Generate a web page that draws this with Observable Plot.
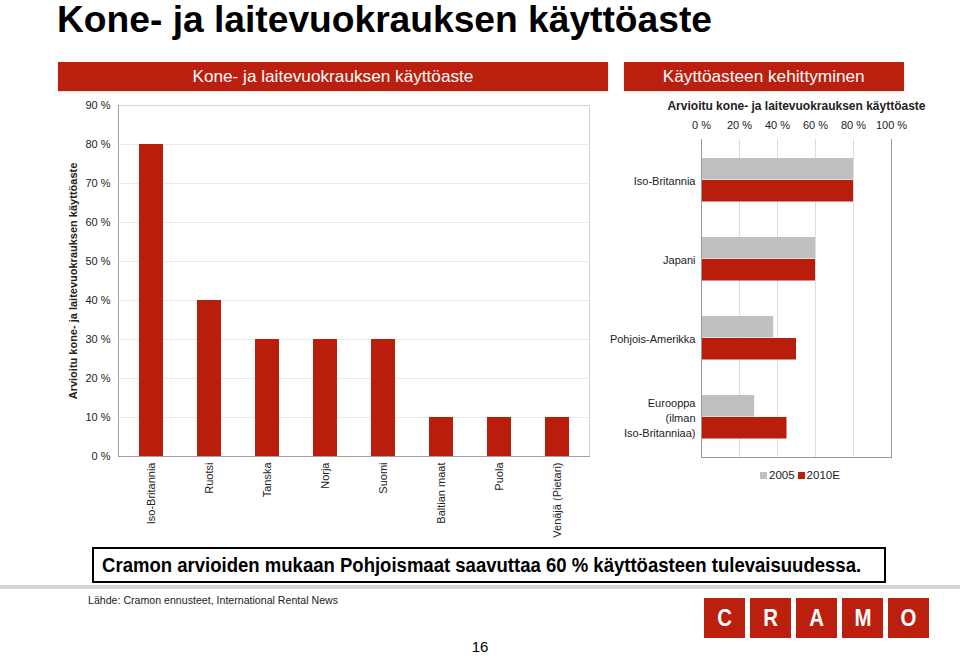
<!DOCTYPE html>
<html>
<head>
<meta charset="utf-8">
<script src="https://cdn.jsdelivr.net/npm/d3@7"></script>
<script src="https://cdn.jsdelivr.net/npm/@observablehq/plot@0.6"></script>
<style>
  html, body { margin: 0; padding: 0; background: #fff; }
  body { width: 960px; height: 656px; position: relative; overflow: hidden; font-family: "Liberation Sans", Arial, sans-serif; }
  .abs { position: absolute; }
  .fit { display: inline-block; white-space: nowrap; flex: none; }
  #title { left: 57px; top: 2px; font-weight: bold; font-size: 36px; line-height: 36px; color: #000; white-space: nowrap; }
  #title .fit { transform-origin: left center; }
  .hdr { top: 62px; height: 29px; background: #bb200f; color: #fff; font-size: 17px; line-height: 29px; display: flex; justify-content: center; box-shadow: 0 1px 2px #ddd; }
  .hdr .fit { transform-origin: center center; }
  #caption { left: 92px; top: 547px; width: 790px; height: 32px; border: 2px solid #000; line-height: 32px; font-size: 20px; font-weight: bold; white-space: nowrap; display: flex; justify-content: center; }
  #caption .fit { transform-origin: center center; margin-right: 14px; }
  #sep { left: 0; top: 585px; width: 960px; height: 4px; background: #d6d6d6; }
  #source { left: 88px; top: 594px; font-size: 11px; color: #222; }
  #source .fit { transform-origin: left center; }
  #logo { left: 704px; top: 598px; display: flex; gap: 5px; }
  #logo div { width: 41px; height: 40px; background: #bb200f; color: #fff; font-weight: bold; font-size: 24px; line-height: 40px; text-align: center; }
  #logo div span { display: inline-block; transform: scaleX(0.85); }
  #page { left: 0; width: 960px; top: 638px; text-align: center; font-size: 15px; }
  .chart svg text { fill: #222; }
  #right [aria-label="x-axis label"] text { font-weight: bold; font-size: 12px; }
  #left [aria-label="y-axis label"] text { font-weight: bold; font-size: 11px; }
  #legend { left: 760px; top: 469px; font-size: 11.5px; color: #222; display: flex; align-items: center; white-space: nowrap; }
  #legend .sw { display: inline-block; width: 7px; height: 7px; margin-right: 2px; }
  #legend .item { display: inline-flex; align-items: center; margin-right: 3px; }
</style>
</head>
<body>
<div id="title" class="abs"><span class="fit" data-w="655">Kone- ja laitevuokrauksen käyttöaste</span></div>
<div class="abs hdr" style="left:58px;width:550px;"><span class="fit" data-w="281">Kone- ja laitevuokrauksen käyttöaste</span></div>
<div class="abs hdr" style="left:624px;width:280px;"><span class="fit" data-w="202">Käyttöasteen kehittyminen</span></div>
<div id="left" class="abs chart" style="left:60px;top:95px;"></div>
<div id="right" class="abs chart" style="left:600px;top:95px;"></div>
<div id="legend" class="abs"></div>
<div id="caption" class="abs"><span class="fit" data-w="759">Cramon arvioiden mukaan Pohjoismaat saavuttaa 60 % käyttöasteen tulevaisuudessa.</span></div>
<div id="sep" class="abs"></div>
<div id="source" class="abs"><span class="fit" data-w="250">Lähde: Cramon ennusteet, International Rental News</span></div>
<div id="logo" class="abs"><div><span>C</span></div><div><span>R</span></div><div><span>A</span></div><div><span>M</span></div><div><span>O</span></div></div>
<div id="page" class="abs">16</div>
<script>
// ---- Data ----
const countries = ["Iso-Britannia", "Ruotsi", "Tanska", "Norja", "Suomi", "Baltian maat", "Puola", "Venäjä (Pietari)"];
const utilization = [80, 40, 30, 30, 30, 10, 10, 10];
const leftTicks = [0, 10, 20, 30, 40, 50, 60, 70, 80, 90];

const regions = ["Iso-Britannia", "Japani", "Pohjois-Amerikka", "Eurooppa\n(ilman\nIso-Britanniaa)"];
const util2005 = [80, 60, 38, 28];
const util2010E = [80, 60, 50, 45];
const seriesNames = ["2005", "2010E"];
const rightTicks = [0, 20, 40, 60, 80, 100];

const RED = "#b91e0c";
const GRAY = "#c0c0c0";
const seriesColors = [GRAY, RED];
const pct = d => d + " %";
const fontStyle = {fontFamily: "'Liberation Sans', Arial, sans-serif", fontSize: "11px", background: "transparent", overflow: "visible"};

const leftData = countries.map((c, i) => ({country: c, value: utilization[i]}));
const left = Plot.plot({
  width: 540, height: 450,
  marginLeft: 58, marginRight: 11, marginTop: 10, marginBottom: 89,
  style: fontStyle,
  x: {domain: countries, paddingInner: 0.59, paddingOuter: 0.295, label: null},
  y: {domain: [0, 90], label: null},
  marks: [
    Plot.gridY(leftTicks, {stroke: "#ebebeb", strokeOpacity: 1}),
    Plot.frame({stroke: "#d4d4d4"}),
    Plot.barY(leftData, {x: "country", y: "value", fill: RED}),
    Plot.frame({anchor: "left", stroke: "#a0a0a0"}),
    Plot.frame({anchor: "bottom", stroke: "#a0a0a0"}),
    Plot.axisY({ticks: leftTicks, tickFormat: pct, tickSize: 0, tickPadding: 8,
      label: "Arvioitu kone- ja laitevuokrauksen käyttöaste", labelAnchor: "center", labelArrow: "none", labelOffset: 49}),
    Plot.axisX({tickRotate: -90, tickSize: 0, tickPadding: 6, label: null})
  ]
});
document.getElementById("left").appendChild(left);

const rightData = regions.flatMap((r, i) => [
  {region: r, series: seriesNames[0], value: util2005[i]},
  {region: r, series: seriesNames[1], value: util2010E[i]}
]);
const right = Plot.plot({
  width: 300, height: 370,
  marginLeft: 101, marginRight: 9, marginTop: 44, marginBottom: 8,
  style: fontStyle,
  x: {domain: [0, 100], label: null},
  y: {domain: regions, padding: 0, label: null},
  color: {domain: seriesNames, range: seriesColors},
  marks: [
    Plot.gridX(rightTicks, {stroke: "#dcdcdc", strokeOpacity: 1}),
    Plot.barX(rightData.filter(d => d.series === seriesNames[0]), {y: "region", x: "value", fill: "series", insetTop: 18, insetBottom: 39.5}),
    Plot.barX(rightData.filter(d => d.series === seriesNames[1]), {y: "region", x: "value", fill: "series", insetTop: 40, insetBottom: 17.5}),
    Plot.frame({anchor: "left", stroke: "#999"}),
    Plot.frame({anchor: "right", stroke: "#999"}),
    Plot.frame({anchor: "bottom", stroke: "#999"}),
    Plot.axisX({anchor: "top", ticks: rightTicks, tickFormat: pct, tickSize: 0, tickPadding: 11,
      label: "Arvioitu kone- ja laitevuokrauksen käyttöaste", labelAnchor: "center", labelArrow: "none", labelOffset: 38}),
    Plot.axisY({tickSize: 0, tickPadding: 6, label: null, lineHeight: 1.4})
  ]
});
document.getElementById("right").appendChild(right);

// legend from the series arrays
const legendEl = document.getElementById("legend");
seriesNames.forEach((s, i) => {
  const item = document.createElement("span");
  item.className = "item";
  const sw = document.createElement("span");
  sw.className = "sw";
  sw.style.background = seriesColors[i];
  item.appendChild(sw);
  item.appendChild(document.createTextNode(s));
  legendEl.appendChild(item);
});

// fit text widths
document.querySelectorAll(".fit").forEach(el => {
  const w = el.getBoundingClientRect().width;
  const target = +el.dataset.w;
  if (w > 0 && target) el.style.transform = `scaleX(${target / w})`;
});
</script>
</body>
</html>
